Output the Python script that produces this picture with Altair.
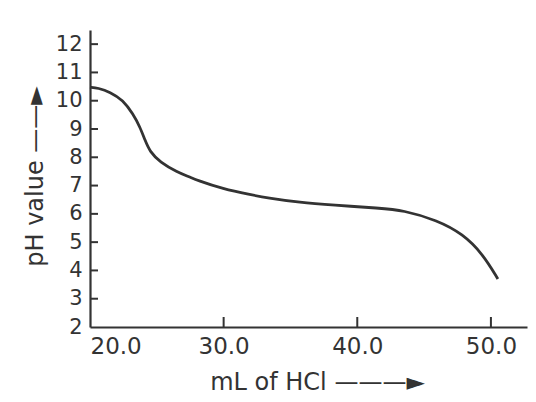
import altair as alt
import pandas as pd

# Titration curve
ml_hcl = [20.0, 20.6, 21.5, 22.47, 23.22, 23.74, 24.11, 24.49, 25.24, 26.51, 27.48,
          28.0, 29.95, 31.97, 33.24, 35.71, 38.17, 41.69, 43.41, 45.95, 47.9,
          49.39, 50.52]
ph_val = [10.48, 10.45, 10.31, 10.02, 9.53, 9.07, 8.61, 8.19, 7.83, 7.48, 7.30,
          7.19, 6.88, 6.68, 6.57, 6.40, 6.31, 6.20, 6.13, 5.78, 5.29,
          4.58, 3.70]

x_tick_values = [20, 30, 40, 50]
y_tick_values = [2, 3, 4, 5, 6, 7, 8, 9, 10, 11, 12]
x_inner_ticks = [30, 40, 50]
y_inner_ticks = [3, 4, 5, 6, 7, 8, 9, 10, 11, 12]

curve = pd.DataFrame({"ml": ml_hcl, "ph": ph_val})
xt = pd.DataFrame({"ml": x_inner_ticks})
yt = pd.DataFrame({"ph": y_inner_ticks})

W, H = 437, 297
INK = "#333333"
FONT = "DejaVu Sans"

xscale = alt.Scale(domain=[20, 52.7], nice=False, zero=False)
yscale = alt.Scale(domain=[2, 12.5], nice=False, zero=False)

xaxis = alt.Axis(values=x_tick_values, format=".1f", grid=False,
                 ticks=False, tickSize=0, labelFontSize=23, labelPadding=8,
                 labelColor=INK, labelFont=FONT, labelOverlap=False,
                 domainColor=INK, domainWidth=2.2,
                 title="mL of HCl   ———►", titleFont=FONT, titleFontSize=24,
                 titleFontWeight="normal", titleColor=INK,
                 titleX=227, titleY=43, titleAlign="center")
yaxis = alt.Axis(values=y_tick_values, format="d", grid=False, ticks=False, tickSize=0,
                 labelFontSize=21, labelPadding=8, labelColor=INK,
                 labelFont=FONT, labelOverlap=False, labelSeparation=0,
                 domainColor=INK, domainWidth=2.2,
                 title="pH value ——►", titleFont=FONT, titleFontSize=24,
                 titleFontWeight="normal", titleColor=INK,
                 titleAngle=270, titleX=-55, titleY=146,
                 titleAlign="center", titleBaseline="middle")

line = alt.Chart(curve).mark_line(
    color=INK, strokeWidth=2.8, interpolate="basis"
).encode(
    x=alt.X("ml:Q", scale=xscale, axis=xaxis),
    y=alt.Y("ph:Q", scale=yscale, axis=yaxis),
)

yticks = alt.Chart(yt).mark_rule(color=INK, strokeWidth=2).encode(
    y=alt.Y("ph:Q", scale=yscale, axis=yaxis),
    x=alt.value(0),
    x2=alt.value(8),
)

xticks = alt.Chart(xt).mark_rule(color=INK, strokeWidth=2).encode(
    x=alt.X("ml:Q", scale=xscale, axis=xaxis),
    y=alt.value(H),
    y2=alt.value(H - 10),
)

chart = alt.layer(line, yticks, xticks).properties(
    width=W, height=H,
    autosize=alt.AutoSizeParams(type="none"),
    padding={"left": 82, "top": 22, "right": 1, "bottom": 67},
    background="white",
).configure_view(stroke=None).configure_axis(labelOverlap=False)

chart.save("out.html", embed_options={"renderer": "svg", "actions": False})
